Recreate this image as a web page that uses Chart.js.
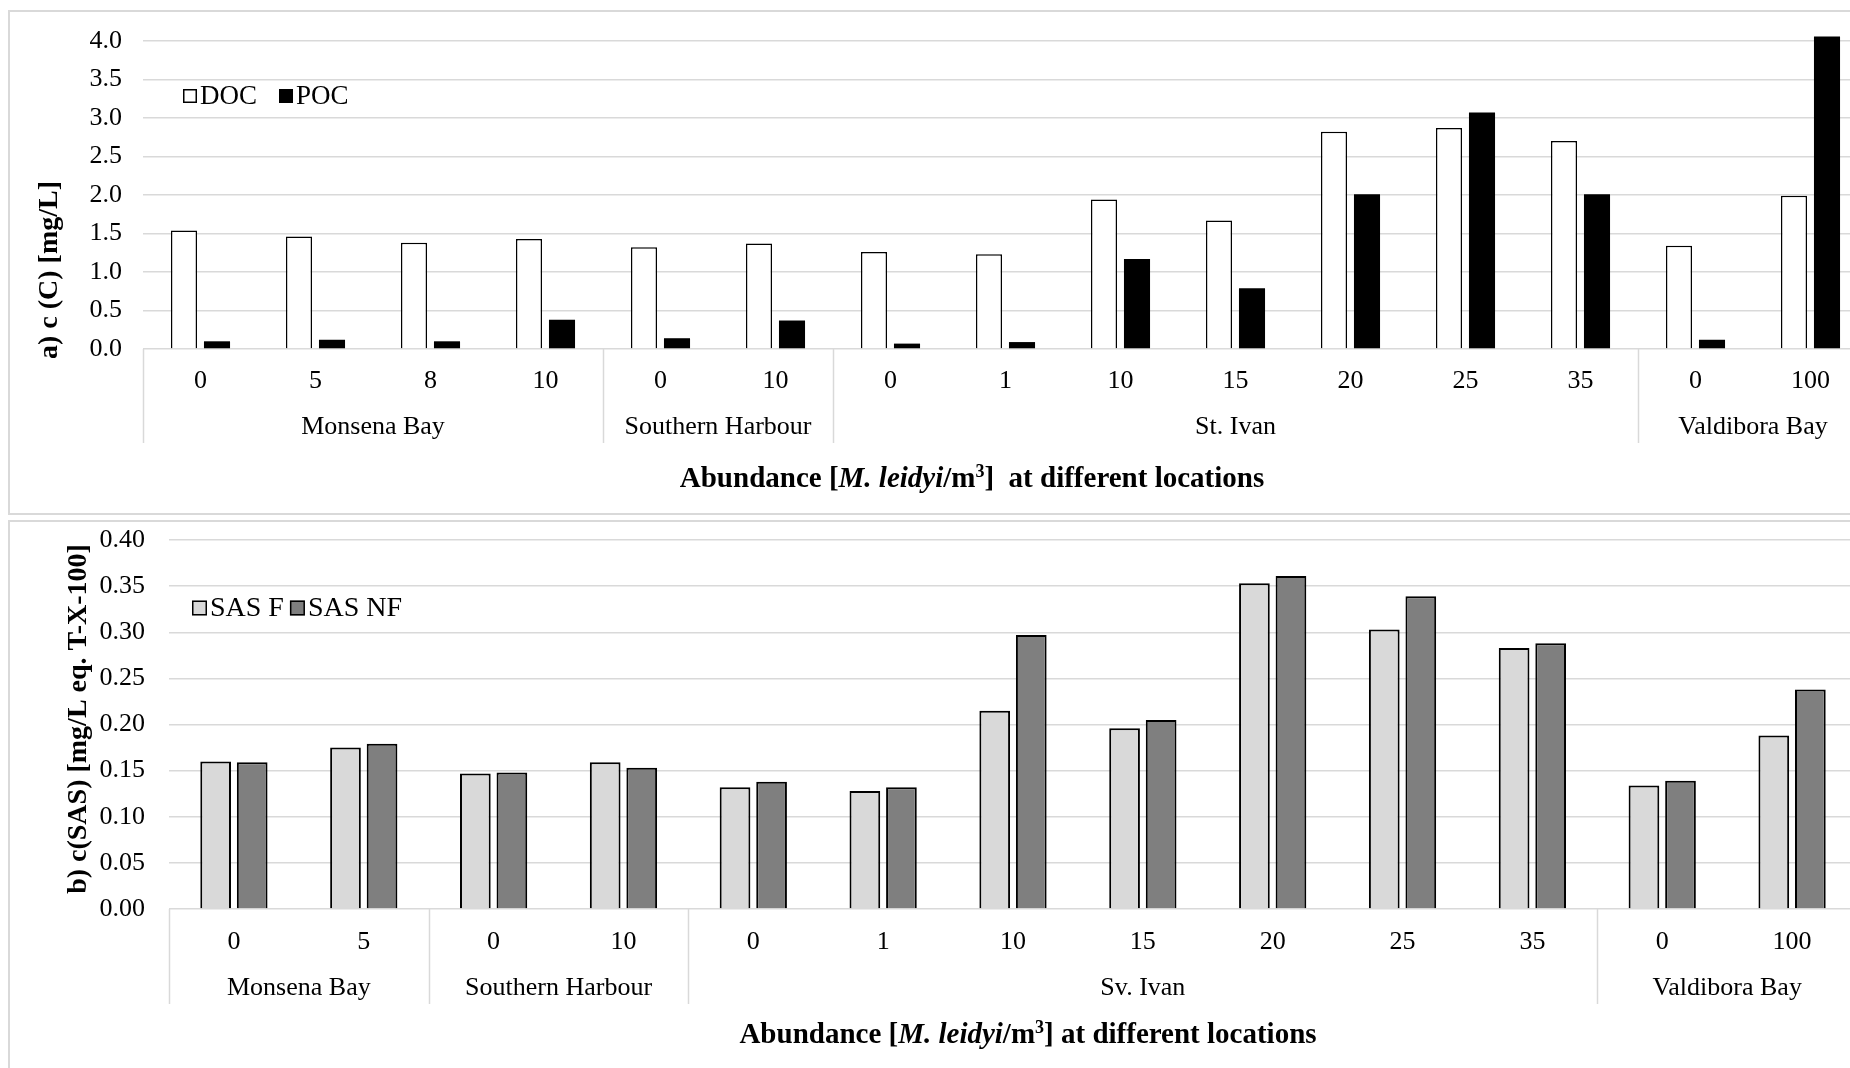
<!DOCTYPE html>
<html>
<head>
<meta charset="utf-8">
<script src="https://cdn.jsdelivr.net/npm/chart.js@4.4.0/dist/chart.umd.min.js"></script>
<style>
  html, body { margin: 0; padding: 0; background: #fff; overflow: hidden; }
  #page { position: relative; width: 1850px; height: 1068px; overflow: hidden; }
  .frame { position: absolute; border: 2px solid #d9d9d9; box-sizing: border-box; }
  canvas { position: absolute; left: 0; }
</style>
</head>
<body>
<div id="page">
  <div class="frame" style="left:8px; top:10px; width:1900px; height:505px;"></div>
  <div class="frame" style="left:8px; top:520px; width:1900px; height:600px;"></div>
  <canvas id="chartTop" width="1880" height="520" style="top:0; width:1880px; height:520px;"></canvas>
  <canvas id="chartBottom" width="1870" height="578" style="top:490px; width:1870px; height:578px;"></canvas>
</div>
<script>
// ---- datos panel a) ----
const topTicks = ['0', '5', '8', '10', '0', '10', '0', '1', '10', '15', '20', '25', '35', '0', '100'];
const topGroups = ['Monsena Bay', 'Southern Harbour', 'St. Ivan', 'Valdibora Bay'];
const topGroupSizes = [4, 2, 7, 2];
const docValues = [1.54, 1.46, 1.38, 1.43, 1.32, 1.37, 1.26, 1.23, 1.94, 1.67, 2.82, 2.87, 2.70, 1.34, 1.99];
const pocValues = [0.10, 0.12, 0.10, 0.38, 0.14, 0.37, 0.07, 0.09, 1.17, 0.79, 2.01, 3.07, 2.01, 0.12, 4.06];

// ---- datos panel b) ----
const botTicks = ['0', '5', '0', '10', '0', '1', '10', '15', '20', '25', '35', '0', '100'];
const botGroups = ['Monsena Bay', 'Southern Harbour', 'Sv. Ivan', 'Valdibora Bay'];
const botGroupSizes = [2, 2, 7, 2];
const sasF = [0.160, 0.175, 0.147, 0.159, 0.132, 0.128, 0.215, 0.196, 0.353, 0.303, 0.283, 0.134, 0.188];
const sasNF = [0.159, 0.179, 0.148, 0.153, 0.138, 0.132, 0.297, 0.205, 0.361, 0.339, 0.288, 0.139, 0.238];

const serif = "'Liberation Serif', 'Times New Roman', serif";
Chart.defaults.font.family = serif;
Chart.defaults.color = '#000';

// Dibuja eje multinivel, títulos y leyenda dentro del área
function decor(cfg) {
  return {
    id: 'decor',
    afterDraw(chart) {
      const ctx = chart.ctx;
      const x = chart.scales.x;
      const cw = x.getPixelForValue(1) - x.getPixelForValue(0);
      const axisY = chart.chartArea.bottom;
      ctx.save();

      // separadores y nombres de grupo
      ctx.strokeStyle = '#d9d9d9';
      ctx.lineWidth = 1.5;
      ctx.fillStyle = '#000';
      ctx.font = '26px ' + serif;
      ctx.textAlign = 'center';
      ctx.textBaseline = 'middle';
      let start = 0;
      const drawSep = (i) => {
        const px = Math.round(x.getPixelForValue(i) - cw / 2) + 0.5;
        ctx.beginPath();
        ctx.moveTo(px, axisY);
        ctx.lineTo(px, cfg.sepBottom);
        ctx.stroke();
      };
      drawSep(0);
      cfg.groups.forEach((g, k) => {
        const end = start + cfg.sizes[k];
        drawSep(end);
        const cx = (x.getPixelForValue(start) + x.getPixelForValue(end - 1)) / 2;
        ctx.fillText(g, cx, cfg.groupY);
        start = end;
      });

      // título eje Y
      ctx.save();
      ctx.translate(cfg.yTitleX, cfg.yTitleY);
      ctx.rotate(-Math.PI / 2);
      ctx.font = 'bold 28px ' + serif;
      ctx.fillText(cfg.yTitle, 0, 0);
      ctx.restore();

      // título eje X con cursiva y superíndice
      const segs = [
        { t: 'Abundance [', f: 'bold 29px ' },
        { t: 'M. leidyi', f: 'italic bold 29px ' },
        { t: '/m', f: 'bold 29px ' },
        { t: '3', f: 'bold 18px ', up: 8 },
        { t: cfg.titleTail, f: 'bold 29px ' }
      ];
      let total = 0;
      segs.forEach(s => { ctx.font = s.f + serif; s.w = ctx.measureText(s.t).width; total += s.w; });
      let tx = cfg.titleX - total / 2;
      ctx.textAlign = 'left';
      segs.forEach(s => {
        ctx.font = s.f + serif;
        ctx.fillText(s.t, tx, cfg.titleY - (s.up || 0));
        tx += s.w;
      });

      // leyenda
      let lx = cfg.legendX;
      ctx.font = cfg.legendFont + 'px ' + serif;
      chart.data.datasets.forEach(ds => {
        const sq = cfg.legendBox;
        ctx.fillStyle = ds.backgroundColor;
        ctx.fillRect(lx, cfg.legendY - sq / 2, sq, sq);
        ctx.strokeStyle = '#000';
        ctx.lineWidth = 1.5;
        ctx.strokeRect(lx + 0.75, cfg.legendY - sq / 2 + 0.75, sq - 1.5, sq - 1.5);
        ctx.fillStyle = '#000';
        ctx.fillText(ds.label, lx + sq + 3, cfg.legendY + 1);
        lx += sq + 3 + ctx.measureText(ds.label).width + cfg.legendGap;
      });
      ctx.restore();
    }
  };
}

// ---------- panel a) ----------
new Chart(document.getElementById('chartTop'), {
  type: 'bar',
  data: {
    labels: topTicks,
    datasets: [
      { label: 'DOC', data: docValues, backgroundColor: '#ffffff', borderColor: '#000', borderWidth: 1.5,
        categoryPercentage: 0.574, barPercentage: 0.79 },
      { label: 'POC', data: pocValues, backgroundColor: '#000000', borderColor: '#000', borderWidth: 0,
        categoryPercentage: 0.574, barPercentage: 0.79, clip: false }
    ]
  },
  options: {
    responsive: false,
    animation: false,
    layout: { padding: { top: 41, right: 12, left: 0, bottom: 0 } },
    plugins: { legend: { display: false }, tooltip: { enabled: false } },
    scales: {
      x: {
        grid: { display: false },
        border: { display: false },
        ticks: { font: { size: 26 }, padding: 9, maxRotation: 0, autoSkip: false },
        afterFit(s) { s.height = 171; }
      },
      y: {
        min: 0, max: 4,
        grid: { color: '#d9d9d9', lineWidth: 1.5, drawTicks: false },
        border: { display: false },
        ticks: { stepSize: 0.5, font: { size: 26 }, padding: 21, callback: v => v.toFixed(1) },
        afterFit(s) { s.width = 143; }
      }
    }
  },
  plugins: [decor({
    groups: topGroups, sizes: topGroupSizes, sepBottom: 443, groupY: 427,
    yTitle: 'a) c (C) [mg/L]', yTitleX: 50, yTitleY: 270,
    titleX: 972, titleY: 480, titleTail: ']  at different locations',
    legendX: 183, legendY: 96, legendBox: 14, legendGap: 22, legendFont: 27
  })]
});

// ---------- panel b) ----------
new Chart(document.getElementById('chartBottom'), {
  type: 'bar',
  data: {
    labels: botTicks,
    datasets: [
      { label: 'SAS F', data: sasF, backgroundColor: '#d9d9d9', borderColor: '#000', borderWidth: 2,
        categoryPercentage: 0.563, barPercentage: 0.84 },
      { label: 'SAS NF', data: sasNF, backgroundColor: '#7f7f7f', borderColor: '#000', borderWidth: 2,
        categoryPercentage: 0.563, barPercentage: 0.84 }
    ]
  },
  options: {
    responsive: false,
    animation: false,
    layout: { padding: { top: 50, right: 13, left: 0, bottom: 0 } },
    plugins: { legend: { display: false }, tooltip: { enabled: false } },
    scales: {
      x: {
        grid: { display: false },
        border: { display: false },
        ticks: { font: { size: 26 }, padding: 10, maxRotation: 0, autoSkip: false },
        afterFit(s) { s.height = 159; }
      },
      y: {
        min: 0, max: 0.4,
        grid: { color: '#d9d9d9', lineWidth: 1.5, drawTicks: false },
        border: { display: false },
        ticks: { stepSize: 0.05, font: { size: 26 }, padding: 24, callback: v => v.toFixed(2) },
        afterFit(s) { s.width = 169; }
      }
    }
  },
  plugins: [decor({
    groups: botGroups, sizes: botGroupSizes, sepBottom: 514, groupY: 498,
    yTitle: 'b) c(SAS) [mg/L eq. T-X-100]', yTitleX: 79, yTitleY: 229,
    titleX: 1028, titleY: 546, titleTail: '] at different locations',
    legendX: 192, legendY: 118, legendBox: 15, legendGap: 6, legendFont: 28
  })]
});
</script>
</body>
</html>
